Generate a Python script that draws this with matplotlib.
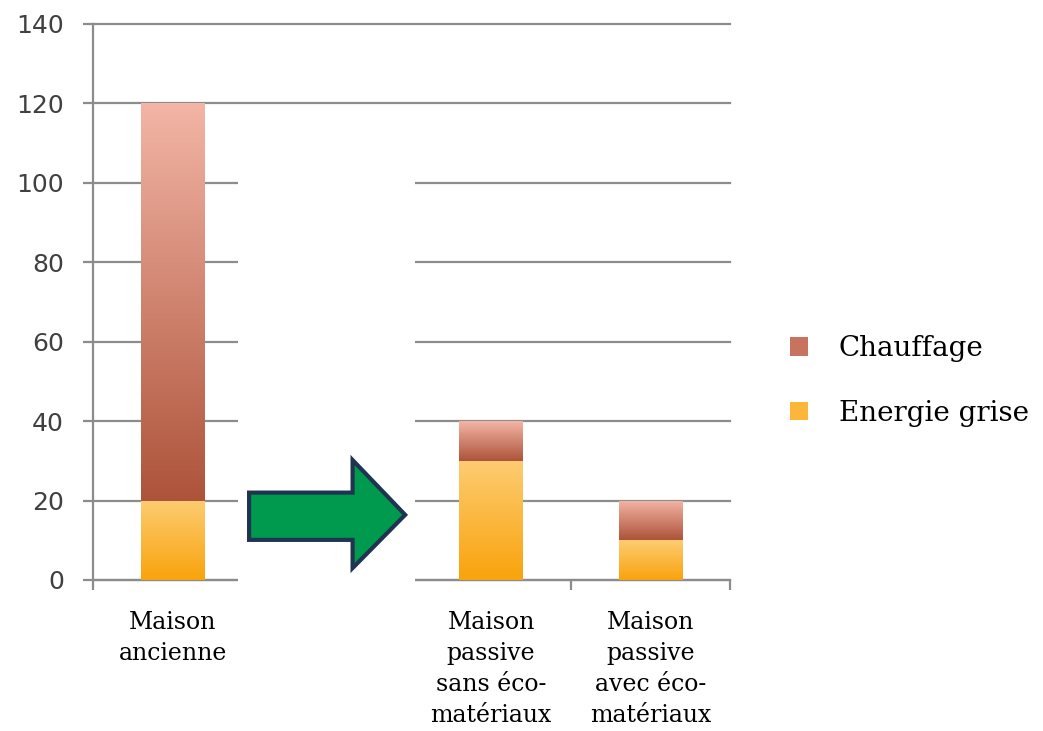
import matplotlib
matplotlib.use("Agg")
import matplotlib.pyplot as plt
import numpy as np
from matplotlib.colors import LinearSegmentedColormap
from matplotlib.patches import Patch, Polygon, Rectangle

categories = ["Maison\nancienne", "",
              "Maison\npassive\nsans éco-\nmatériaux",
              "Maison\npassive\navec éco-\nmatériaux"]
energie_grise = [20, 0, 30, 10]
chauffage = [100, 0, 10, 10]
y_ticks = [0, 20, 40, 60, 80, 100, 120, 140]

grid_col = "#8c8c8c"
cmap_chauf = LinearSegmentedColormap.from_list("ch", ["#ad533a", "#f3b5a6"])
cmap_energ = LinearSegmentedColormap.from_list("en", ["#f9a30c", "#fdcc72"])


def gradient_fill(ax, bars, cmap):
    grad = np.linspace(0, 1, 256).reshape(-1, 1)
    for p in bars:
        h = p.get_height()
        if h <= 0:
            continue
        x0, y0, w = p.get_x(), p.get_y(), p.get_width()
        im = ax.imshow(grad, cmap=cmap, origin="lower", aspect="auto",
                       extent=(x0, x0 + w, y0, y0 + h), zorder=3)
        im.set_clip_path(p)


fig = plt.figure(figsize=(10.43, 7.31), dpi=100)
ax = fig.add_axes([0.0892, 0.2066, 0.6107, 0.7606])

x = np.arange(len(categories))
b1 = ax.bar(x, energie_grise, width=0.4, color="#fbb53a", zorder=3)
b2 = ax.bar(x, chauffage, width=0.4, bottom=energie_grise, color="#c87260", zorder=3)
gradient_fill(ax, b1, cmap_energ)
gradient_fill(ax, b2, cmap_chauf)

ax.set_xlim(-0.5, 3.5)
ax.set_ylim(0, 140)
ax.set_yticks(y_ticks)
ax.yaxis.grid(True, color=grid_col, linewidth=1.6)
for gl in ax.get_ygridlines():
    gl.set_clip_on(False)
ax.set_axisbelow(True)

for s in ["top", "right"]:
    ax.spines[s].set_visible(False)
for s in ["left", "bottom"]:
    ax.spines[s].set_color(grid_col)
    ax.spines[s].set_linewidth(1.6)

ax.set_xticks(x)
ax.set_xticklabels(categories, family="DejaVu Serif", fontsize=17,
                   linespacing=1.45, va="top")
ax.tick_params(axis="x", length=0, pad=22)
ax.set_xticks(np.arange(-0.5, 4.0, 1.0), minor=True)
ax.tick_params(axis="x", which="minor", length=7, width=1.6, color=grid_col)
ax.tick_params(axis="y", length=7, width=1.6, color=grid_col, pad=14,
               labelsize=18, labelcolor="#404040")

# white block behind the arrow hides gridlines and axis
ax.add_patch(Rectangle((0.41, -8), 1.115, 116, facecolor="white",
                       edgecolor="none", zorder=2.6, clip_on=False))

arrow = [(0.48, 10.1), (1.13, 10.1), (1.13, 3.0), (1.46, 16.4),
         (1.13, 30.2), (1.13, 22.0), (0.48, 22.0)]
ax.add_patch(Polygon(arrow, closed=True, facecolor="#009a4e",
                     edgecolor="#1f3450", linewidth=3, zorder=4, clip_on=False))

handles = [Patch(facecolor="#c87260", label="Chauffage"),
           Patch(facecolor="#fdb53a", label="Energie grise")]
fig.legend(handles=handles, loc="center left", bbox_to_anchor=(0.7335, 0.479),
           frameon=False, prop={"family": "DejaVu Serif", "size": 20},
           handlelength=0.65, handleheight=0.65, handletextpad=1.1,
           labelspacing=1.35)

fig.savefig("out.png", dpi=100)
